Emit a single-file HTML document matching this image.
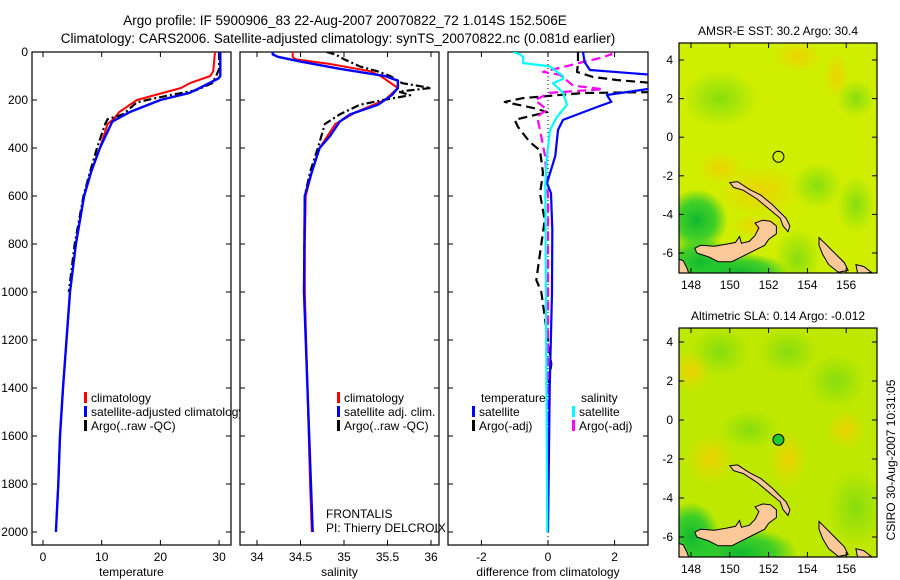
<!DOCTYPE html>
<html><head><meta charset="utf-8">
<style>
html,body{margin:0;padding:0;background:#fff;}
svg{display:block;font-family:"Liberation Sans",sans-serif;}
text{font-size:12px;fill:#000;}
</style></head>
<body>
<svg id="fig" width="900" height="580" viewBox="0 0 900 580" xmlns="http://www.w3.org/2000/svg">
<defs>
<radialGradient id="g-orange" cx="50%" cy="50%" r="50%"><stop offset="0" stop-color="#f0d000" stop-opacity="0.9"/><stop offset="1" stop-color="#f0d000" stop-opacity="0"/></radialGradient>
<radialGradient id="g-green" cx="50%" cy="50%" r="50%"><stop offset="0" stop-color="#10b830" stop-opacity="1"/><stop offset="0.6" stop-color="#20c830" stop-opacity="0.8"/><stop offset="1" stop-color="#20c830" stop-opacity="0"/></radialGradient>
<radialGradient id="g-lgreen" cx="50%" cy="50%" r="50%"><stop offset="0" stop-color="#80dc10" stop-opacity="0.9"/><stop offset="1" stop-color="#80dc10" stop-opacity="0"/></radialGradient>
<clipPath id="clip-m1"><rect x="679" y="43" width="198" height="230"/></clipPath>
<clipPath id="clip-m2"><rect x="679" y="328" width="198" height="229"/></clipPath>
<clipPath id="clip-p3"><rect x="448" y="52" width="200" height="493"/></clipPath>
<clipPath id="clip-p2"><rect x="240" y="52" width="199" height="493"/></clipPath>
</defs>
<text x="345" y="25" text-anchor="middle" style="font-size:13.5px">Argo profile: IF 5900906_83 22-Aug-2007 20070822_72 1.014S 152.506E</text>
<text x="338" y="43" text-anchor="middle" style="font-size:13.5px">Climatology: CARS2006. Satellite-adjusted climatology: synTS_20070822.nc (0.081d earlier)</text>
<g id="layer"></g>
</svg>
<script>
// ---- data ----
const tempDepth = [0,80,100,130,150,200,250,280,300,400,500,600,800,1000,1400,1600,1800,1950];
const tempClim  = [29.3,29,28.5,25,23.5,16,13,12,11,9.7,8.2,7,5.6,4.6,3.4,2.9,2.6,2.3];
const tempSatDepth = [0,100,110,150,170,200,250,290,400,500,600,800,1000,1400,1600,1800,2000];
const tempSat   = [30.2,30.2,29.9,26.7,25,20,14.8,11.8,9.7,8.2,7,5.6,4.6,3.4,2.9,2.6,2.2];
const argoTDepth = [0,70,100,130,160,180,200,210,260,280,300,400,500,600,800,1000];
const argoT     = [30,30,29.5,28.8,26,21.6,17.7,16,13.6,11,10.6,9.2,8.0,6.9,5.4,4.4];
const salClimDepth = [0,20,30,50,80,100,150,200,250,300,400,500,600,800,1000,1800,2000];
const salClim   = [34.41,34.41,34.44,34.84,35.3,35.42,35.62,35.47,35.14,34.9,34.72,34.63,34.56,34.55,34.55,34.61,34.63];
const salSatDepth = [0,10,20,40,70,100,120,150,180,220,260,290,350,400,500,600,1000,1600,2000];
const salSat    = [34.18,34.18,34.24,34.5,34.95,35.47,35.62,35.62,35.55,35.39,35.07,34.95,34.84,34.72,34.63,34.55,34.54,34.6,34.64];
const argoSDepth = [0,10,30,60,80,100,130,150,165,180,200,220,260,300,400,500,600,1000];
const argoS     = [34.8,34.9,35.0,35.18,35.38,35.53,35.67,36.0,35.63,35.76,35.45,35.18,34.95,34.78,34.7,34.61,34.55,34.54];
const dTSatDepth = [0,42,75,96,150,179,208,229,283,325,433,546,588,740,1000,1400,2000];
const dTSat     = [1.05,1.1,1.26,3.2,3.2,1.77,1.9,1.47,0.45,0.3,0.22,-0.03,0.09,0.13,0.12,0.05,0];
const dTArgoDepth = [0,46,83,104,117,130,167,171,192,208,233,250,283,312,375,410,504,590,700,950,1000,1300,1400];
const dTArgo    = [0.9,0.9,0.87,1.35,2.1,3.2,3.2,1.05,-0.75,-1.3,-0.45,-0.03,-1.0,-0.9,-0.55,-0.24,-0.15,-0.24,-0.1,-0.35,-0.2,0.1,0];
const dSSatDepth = [0,10,20,46,60,83,100,112,130,146,170,220,270,325,433,550,2000];
const dSSat     = [-1.05,-0.84,-0.75,-0.75,0.05,0.27,0.45,0.45,0.15,0.27,0.45,0.57,0.27,0.06,-0.03,-0.08,-0.02];
const dSArgoDepth = [0,10,25,42,83,95,140,155,170,200,240,270,325,433,600,2000];
const dSArgo    = [1.9,1.9,1.57,1.05,-0.15,0.36,0.75,1.65,0.06,-0.39,-0.03,-0.33,-0.24,-0.09,0,0];
const depthTicks = [0,200,400,600,800,1000,1200,1400,1600,1800,2000];
const tempTicks = [0,10,20,30];
const salTicks = [34,34.5,35,35.5,36];
const diffTicks = [-2,0,2];
const latTicks = [4,2,0,-2,-4,-6];
const lonTicks = [148,150,152,154,156];
const argoPos = [152.506,-1.014];
const landNewBritain = [[148.2,-5.75],[148.5,-5.6],[149.2,-5.65],[149.8,-5.55],[150.3,-5.45],[150.5,-5.15],[150.6,-5.5],[151.0,-5.4],[151.3,-5.1],[151.5,-4.7],[151.3,-4.45],[151.7,-4.3],[152.1,-4.35],[152.4,-4.6],[152.4,-5.0],[152.0,-5.3],[151.8,-5.6],[151.2,-5.9],[150.6,-6.2],[150.1,-6.45],[149.4,-6.45],[148.9,-6.2],[148.3,-6.0]];
const landNewIreland = [[150.0,-2.35],[150.4,-2.3],[151.0,-2.7],[151.6,-3.0],[152.2,-3.5],[152.6,-3.9],[152.9,-4.2],[153.1,-4.6],[153.0,-4.9],[152.75,-4.6],[152.6,-4.2],[152.0,-3.7],[151.4,-3.2],[150.7,-2.75],[150.2,-2.6]];
const landBougainville = [[154.6,-5.2],[154.9,-5.5],[155.4,-6.0],[155.9,-6.5],[156.1,-6.9],[155.6,-7.0],[155.1,-6.6],[154.8,-6.1],[154.6,-5.6]];
const landSW = [[147.3,-6.3],[147.6,-6.4],[147.8,-6.8],[147.9,-7.1],[147.3,-7.1]];
const landSE = [[156.5,-6.6],[156.9,-6.7],[157.3,-7.0],[156.6,-7.1]];

// ---- helpers ----
const NS='http://www.w3.org/2000/svg';
const layer=document.getElementById('layer');
function mk(tag,attrs,parent){const e=document.createElementNS(NS,tag);for(const k in attrs)e.setAttribute(k,attrs[k]);(parent||layer).appendChild(e);return e;}
function txt(x,y,s,anchor,parent){const t=mk('text',{x:x,y:y,'text-anchor':anchor||'start'},parent);t.textContent=s;return t;}
const yD = d => 52 + d*0.24;

function panel(name,x0,x1,xf,ticks,fmt,label,showDepth){
  const g=mk('g',{});
  
  
  const r=mk('rect',{x:x0,y:52,width:x1-x0,height:493,fill:'#fff',stroke:'#000','stroke-width':1.2},g);
  
  
  depthTicks.forEach(d=>{
    const y=yD(d);
    mk('line',{x1:x0,y1:y,x2:x0+5,y2:y,stroke:'#000'},g);
    mk('line',{x1:x1-5,y1:y,x2:x1,y2:y,stroke:'#000'},g);
    if(showDepth){const t=txt(x0-4,y+4,String(d),'end',g);
      
      }
  });
  ticks.forEach(v=>{
    const x=xf(v);
    mk('line',{x1:x,y1:52,x2:x,y2:57,stroke:'#000'},g);
    mk('line',{x1:x,y1:540,x2:x,y2:545,stroke:'#000'},g);
    const t=txt(x,561,fmt(v),'middle',g);
    
    
  });
  const l=txt((x0+x1)/2,576,label,'middle',g);
  
  
  return g;
}
function series(g,depths,vals,xf,color,width,dash,name,clip){
  const pts=depths.map((d,i)=>xf(vals[i]).toFixed(1)+','+yD(d).toFixed(1)).join(' ');
  const a={points:pts,fill:'none',stroke:color,'stroke-width':width,'stroke-linejoin':'round'};
  if(dash)a['stroke-dasharray']=dash;
  if(clip)a['clip-path']=clip;
  const p=mk('polyline',a,g);
  
  
}
function legendEntry(g,x,y,color,label,name){
  mk('rect',{x:x,y:y-10,width:3,height:11,fill:color},g);
  const t=txt(x+7,y,label,'start',g);
  
  
}

// ---- panel 1 temperature ----
const xT=v=>43+v*5.87;
const p1=panel('temperature',32,231,xT,tempTicks,String,'temperature',true);
series(p1,tempDepth,tempClim,xT,'#f00',2,null,'temp-climatology-line');
series(p1,argoTDepth,argoT,xT,'#000',2.2,'8 3 2 3','temp-argo-line');
series(p1,tempSatDepth,tempSat,xT,'#0000ff',2.4,null,'temp-satellite-line');
legendEntry(p1,84,402,'#f00','climatology','legend-climatology');
legendEntry(p1,84,416,'#00f','satellite-adjusted climatology','legend-satellite-adjusted');
legendEntry(p1,84,430,'#000','Argo(..raw -QC)','legend-argo-raw');

// ---- panel 2 salinity ----
const xS=v=>257+(v-34)*87;
const p2=panel('salinity',240,439,xS,salTicks,String,'salinity',false);
series(p2,salClimDepth,salClim,xS,'#f00',2,null,'sal-climatology-line');
series(p2,argoSDepth,argoS,xS,'#000',2.2,'8 3 2 3','sal-argo-line','url(#clip-p2)');
series(p2,salSatDepth,salSat,xS,'#00f',2.4,null,'sal-satellite-line');
legendEntry(p2,337,402,'#f00','climatology','legend-sal-climatology');
legendEntry(p2,337,416,'#00f','satellite adj. clim.','legend-sal-satellite');
legendEntry(p2,337,430,'#000','Argo(..raw -QC)','legend-sal-argo');
const f1=txt(326,518,'FRONTALIS','start',p2);

const f2=txt(326,532,'PI: Thierry DELCROIX','start',p2);


// ---- panel 3 difference ----
const xDf=v=>548+v*33.3;
const p3=panel('difference',448,648,xDf,diffTicks,String,'difference from climatology',false);
const z=mk('line',{x1:548,y1:52,x2:548,y2:545,stroke:'#000','stroke-dasharray':'1 3'},p3);

series(p3,dTArgoDepth,dTArgo,xDf,'#000',2.2,'9 5','diff-temp-argo-line','url(#clip-p3)');
series(p3,dSArgoDepth,dSArgo,xDf,'#ff00ff',2.2,'9 5','diff-sal-argo-line','url(#clip-p3)');
series(p3,dTSatDepth,dTSat,xDf,'#00f',2.2,null,'diff-temp-satellite-line','url(#clip-p3)');
series(p3,dSSatDepth,dSSat,xDf,'#00ffff',2.2,null,'diff-sal-satellite-line','url(#clip-p3)');
let t3=txt(481,402,'temperature','start',p3);
t3=txt(581,402,'salinity','start',p3);
legendEntry(p3,472,416,'#00f','satellite','legend-diff-temp-satellite');
legendEntry(p3,472,430,'#000','Argo(-adj)','legend-diff-temp-argo');
legendEntry(p3,572,416,'#00ffff','satellite','legend-diff-sal-satellite');
legendEntry(p3,572,430,'#ff00ff','Argo(-adj)','legend-diff-sal-argo');

// ---- maps ----
function drawMap(name,top,bottom,lat4y,scale,title,blobs,bg,clip,filled){
  const g=mk('g',{});
  
  
  const lx=lon=>691+(lon-148)*19.4;
  const ly=lat=>lat4y+(4-lat)*scale;
  mk('rect',{x:679,y:top,width:198,height:bottom-top,fill:bg},g);
  const bg2=mk('g',{'clip-path':clip},g);
  blobs.forEach(b=>mk('ellipse',{cx:lx(b[0]),cy:ly(b[1]),rx:b[2]*19.4,ry:b[3]*19.4,fill:'url(#'+b[4]+')'},bg2));
  [landNewBritain,landNewIreland,landBougainville,landSW,landSE].forEach(poly=>{
    const p=mk('polygon',{points:poly.map(q=>lx(q[0]).toFixed(1)+','+ly(q[1]).toFixed(1)).join(' '),fill:'#fbc898',stroke:'#000','stroke-width':1},bg2);
    
    
  });
  const c=mk('circle',{cx:lx(argoPos[0]),cy:ly(argoPos[1]),r:5.5,fill:filled?'#22c830':'none',stroke:'#000','stroke-width':1},g);
  
  
  mk('rect',{x:679,y:top,width:198,height:bottom-top,fill:'none',stroke:'#000','stroke-width':1.2},g);
  latTicks.forEach(v=>{const y=ly(v);
    mk('line',{x1:679,y1:y,x2:684,y2:y,stroke:'#000'},g);mk('line',{x1:872,y1:y,x2:877,y2:y,stroke:'#000'},g);
    const t=txt(673,y+4,String(v),'end',g);});
  lonTicks.forEach(v=>{const x=lx(v);
    mk('line',{x1:x,y1:top,x2:x,y2:top+5,stroke:'#000'},g);mk('line',{x1:x,y1:bottom-5,x2:x,y2:bottom,stroke:'#000'},g);
    const t=txt(x,bottom+16,String(v),'middle',g);});
  const tt=txt(778,top-8,title,'middle',g);
}
drawMap('sst-map',43,273,60,19.3,'AMSR-E SST: 30.2 Argo: 30.4',
  [[153.5,4.2,1.2,0.8,'g-orange'],[155.5,3.2,0.6,1.2,'g-orange'],[151.5,-2.8,2.2,1.3,'g-orange'],[149.5,-1.6,1.2,0.8,'g-orange'],[151.5,-4.6,1.5,0.6,'g-orange'],
   [148.3,-4.3,1.6,1.6,'g-green'],[148.5,-6.5,2.0,1.3,'g-green'],[150.5,-7,2.6,1.0,'g-green'],[153.5,-6.3,1.2,1.6,'g-lgreen'],[154.5,-2.5,1.3,1.2,'g-lgreen'],[156.5,2,1,1,'g-lgreen'],[156.5,-3.5,1,1.5,'g-lgreen'],[149.5,2,2,1.5,'g-lgreen']],
  '#d0ee00','url(#clip-m1)',false);
drawMap('sla-map',328,557,342,19.5,'Altimetric SLA: 0.14 Argo: -0.012',
  [[150.5,-6.8,3,1.3,'g-green'],[148,-6,1.5,1.8,'g-green'],[156.5,-4.5,1.5,2,'g-lgreen'],[149.5,3.5,1.5,1.3,'g-lgreen'],[153,3.5,1.5,1.2,'g-lgreen'],[155.5,2,1.5,1.4,'g-lgreen'],[151,-0.5,1.5,1,'g-lgreen'],[149,-2,1.2,1.3,'g-orange'],[153,-2,1,1.5,'g-orange'],[148,2.5,1,1,'g-orange'],[156,-0.5,1,1,'g-orange']],
  '#bfe800','url(#clip-m2)',true);
const cr=txt(0,0,'CSIRO 30-Aug-2007 10:31:05','middle');
cr.setAttribute('transform','translate(895,460) rotate(-90)');


</script>
</body></html>
